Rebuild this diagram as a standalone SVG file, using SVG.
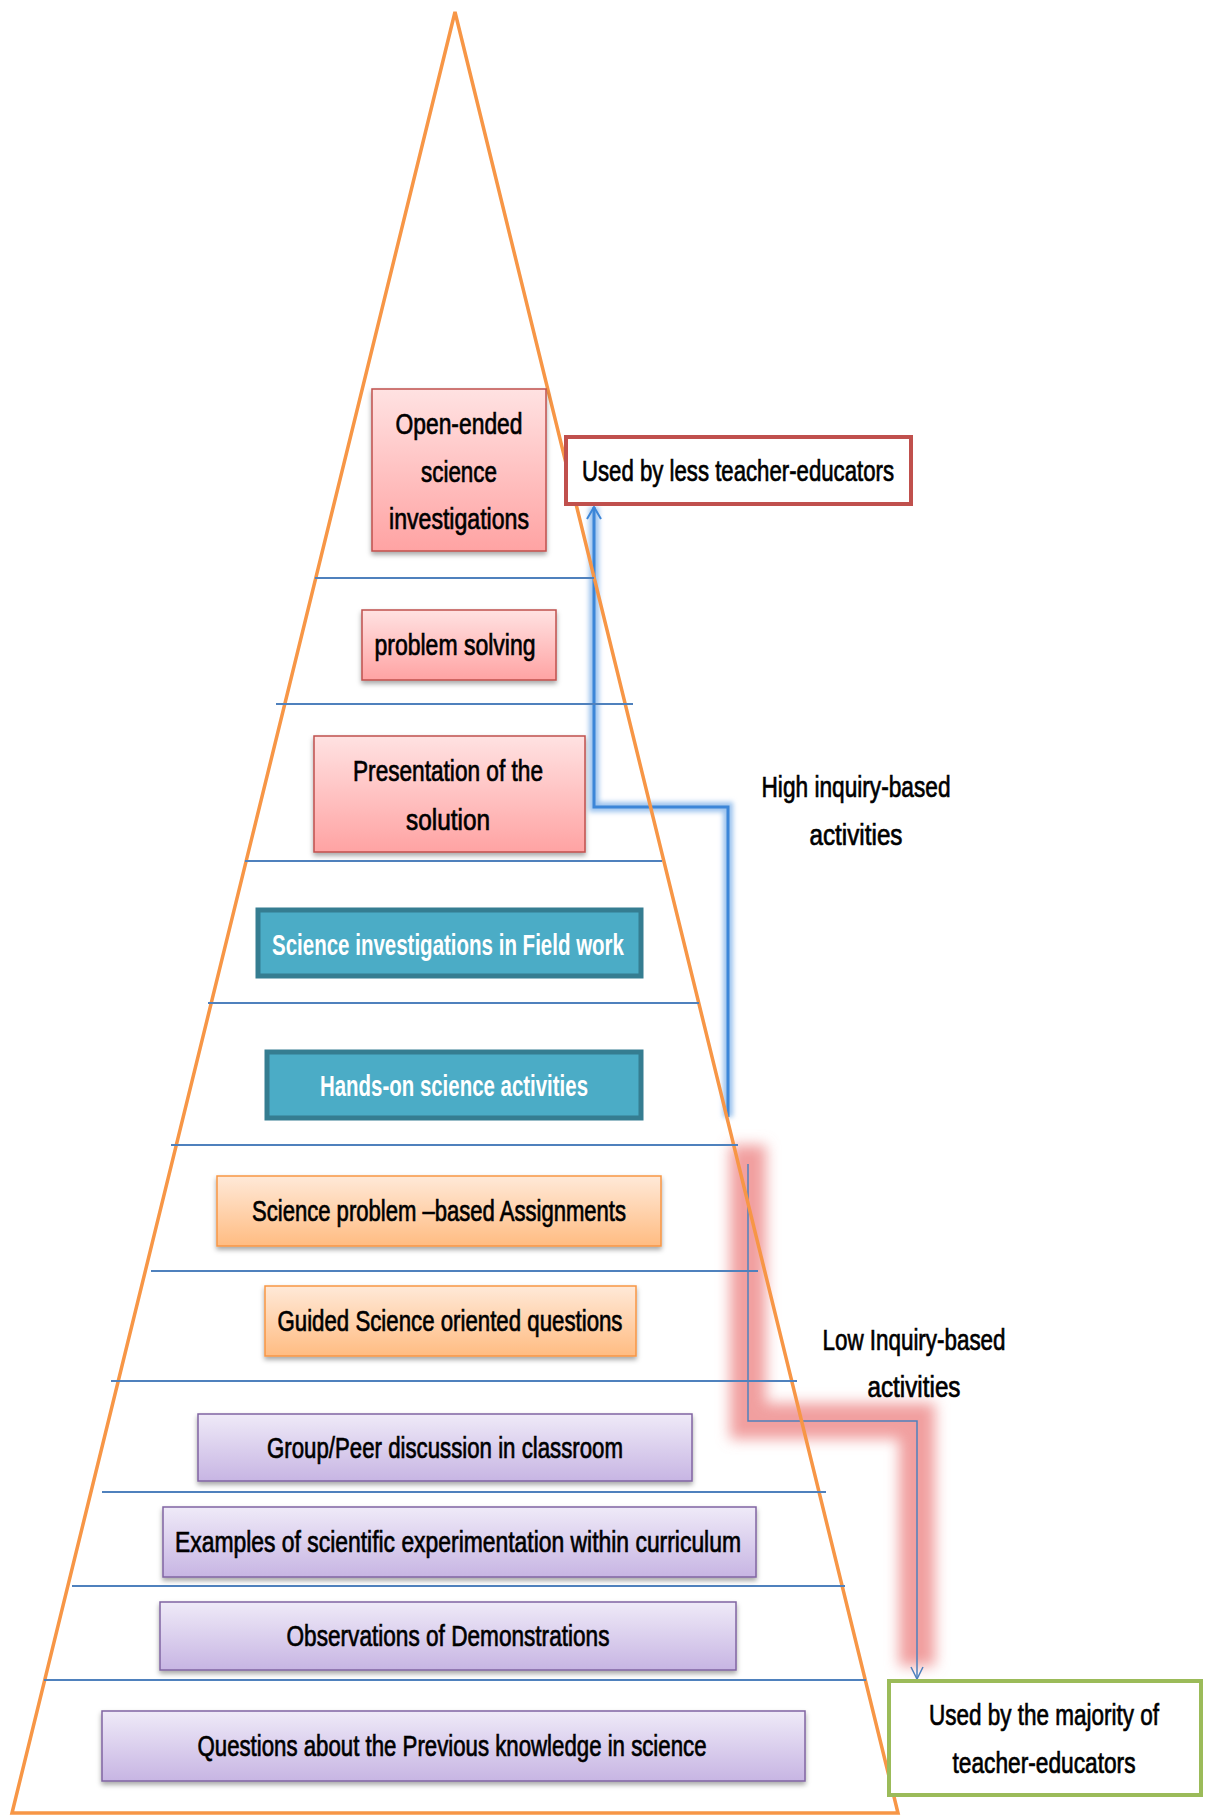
<svg xmlns="http://www.w3.org/2000/svg" width="1211" height="1816" viewBox="0 0 1211 1816">
<defs>
<linearGradient id="gPink" x1="0" y1="0" x2="0" y2="1"><stop offset="0" stop-color="#FFE2E2"/><stop offset="1" stop-color="#FFA3A3"/></linearGradient>
<linearGradient id="gOrange" x1="0" y1="0" x2="0" y2="1"><stop offset="0" stop-color="#FFE9D8"/><stop offset="1" stop-color="#FFBC82"/></linearGradient>
<linearGradient id="gPurple" x1="0" y1="0" x2="0" y2="1"><stop offset="0" stop-color="#EFEAF8"/><stop offset="1" stop-color="#C7B5E3"/></linearGradient>
<filter id="sh" x="-5%" y="-20%" width="110%" height="150%"><feDropShadow dx="0" dy="3" stdDeviation="2.5" flood-color="#000" flood-opacity="0.35"/></filter>
<filter id="blur2" x="-20%" y="-20%" width="140%" height="140%"><feGaussianBlur stdDeviation="2.5"/></filter>
<filter id="blur7" x="-30%" y="-20%" width="160%" height="140%"><feGaussianBlur stdDeviation="7"/></filter>
<marker id="arrUp" markerUnits="userSpaceOnUse" markerWidth="20" markerHeight="20" refX="0" refY="0" orient="auto" overflow="visible"><path d="M-12,-7 L0,0 L-12,7" fill="none" stroke="#3C86D8" stroke-width="2"/></marker>
<marker id="arrDn" markerUnits="userSpaceOnUse" markerWidth="20" markerHeight="20" refX="0" refY="0" orient="auto" overflow="visible"><path d="M-12,-6 L0,0 L-12,6" fill="none" stroke="#4F81BD" stroke-width="1.5"/></marker>
<style>
.lbl{font-family:"Liberation Sans",Arial,sans-serif;font-size:29px;fill:#000;stroke:#000;stroke-width:0.7;text-anchor:middle}
.wht{font-family:"Liberation Sans",Arial,sans-serif;font-size:30px;font-weight:bold;fill:#fff;text-anchor:middle}
.pink{fill:url(#gPink);stroke:#C0504D;stroke-width:1.5;filter:url(#sh)}
.orng{fill:url(#gOrange);stroke:#F79646;stroke-width:1.5;filter:url(#sh)}
.purp{fill:url(#gPurple);stroke:#8064A2;stroke-width:1.5;filter:url(#sh)}
.teal{fill:#4BACC6;stroke:#357D91;stroke-width:5}
.sep{stroke:#4F81BD;stroke-width:2}
</style>
</defs>
<rect width="1211" height="1816" fill="#fff"/>

<g id="connectors">
  <path d="M748 1145 V1421 H917 V1666" fill="none" stroke="#EF8E8E" stroke-opacity="0.85" stroke-width="36" filter="url(#blur7)"/>
  <path d="M728 1117 V807 H594 V507" fill="none" stroke="#9CC3EE" stroke-width="10" filter="url(#blur2)"/>
  <path d="M728 1117 V807 H594 V507" fill="none" stroke="#3C86D8" stroke-width="3" marker-end="url(#arrUp)"/>
  <path d="M748 1164 V1421 H917 V1679" fill="none" stroke="#4F81BD" stroke-width="1.5" marker-end="url(#arrDn)"/>
</g>

<g id="pyramid">
  <polygon points="455,12 12,1813 898,1813" fill="none" stroke="#F79646" stroke-width="3.5" stroke-linejoin="miter"/>
  <line class="sep" x1="315" y1="578" x2="594" y2="578"/>
  <line class="sep" x1="276" y1="704" x2="633" y2="704"/>
  <line class="sep" x1="245" y1="861" x2="662" y2="861"/>
  <line class="sep" x1="208" y1="1003" x2="699" y2="1003"/>
  <line class="sep" x1="171" y1="1145" x2="738" y2="1145"/>
  <line class="sep" x1="151" y1="1271" x2="758" y2="1271"/>
  <line class="sep" x1="111" y1="1381" x2="797" y2="1381"/>
  <line class="sep" x1="102" y1="1492" x2="826" y2="1492"/>
  <line class="sep" x1="72" y1="1586" x2="845" y2="1586"/>
  <line class="sep" x1="44" y1="1680" x2="866" y2="1680"/>
</g>

<g id="n-open-ended">
  <rect class="pink" x="372" y="389" width="174" height="162"/>
  <text class="lbl" x="459" y="434" textLength="127" lengthAdjust="spacingAndGlyphs">Open-ended</text>
  <text class="lbl" x="459" y="482" textLength="76" lengthAdjust="spacingAndGlyphs">science</text>
  <text class="lbl" x="459" y="529" textLength="140" lengthAdjust="spacingAndGlyphs">investigations</text>
</g>
<g id="n-problem-solving">
  <rect class="pink" x="362" y="610" width="194" height="70"/>
  <text class="lbl" x="455" y="655" textLength="161" lengthAdjust="spacingAndGlyphs">problem solving</text>
</g>
<g id="n-presentation">
  <rect class="pink" x="314" y="736" width="271" height="116"/>
  <text class="lbl" x="448" y="781" textLength="190" lengthAdjust="spacingAndGlyphs">Presentation of the</text>
  <text class="lbl" x="448" y="830" textLength="84" lengthAdjust="spacingAndGlyphs">solution</text>
</g>
<g id="n-field-work">
  <rect class="teal" x="258" y="910" width="383" height="66"/>
  <text class="wht" x="448" y="955" textLength="352" lengthAdjust="spacingAndGlyphs">Science investigations in Field work</text>
</g>
<g id="n-hands-on">
  <rect class="teal" x="267" y="1052" width="374" height="66"/>
  <text class="wht" x="454" y="1096" textLength="268" lengthAdjust="spacingAndGlyphs">Hands-on science activities</text>
</g>
<g id="n-assignments">
  <rect class="orng" x="217" y="1176" width="444" height="70"/>
  <text class="lbl" x="439" y="1221" textLength="374" lengthAdjust="spacingAndGlyphs">Science problem –based Assignments</text>
</g>
<g id="n-guided">
  <rect class="orng" x="265" y="1286" width="371" height="70"/>
  <text class="lbl" x="450" y="1331" textLength="345" lengthAdjust="spacingAndGlyphs">Guided Science oriented questions</text>
</g>
<g id="n-group-peer">
  <rect class="purp" x="198" y="1414" width="494" height="67"/>
  <text class="lbl" x="445" y="1458" textLength="356" lengthAdjust="spacingAndGlyphs">Group/Peer discussion in classroom</text>
</g>
<g id="n-examples">
  <rect class="purp" x="163" y="1507" width="593" height="70"/>
  <text class="lbl" x="458" y="1552" textLength="566" lengthAdjust="spacingAndGlyphs">Examples of scientific experimentation within curriculum</text>
</g>
<g id="n-observations">
  <rect class="purp" x="160" y="1602" width="576" height="68"/>
  <text class="lbl" x="448" y="1646" textLength="323" lengthAdjust="spacingAndGlyphs">Observations of Demonstrations</text>
</g>
<g id="n-questions">
  <rect class="purp" x="102" y="1711" width="703" height="70"/>
  <text class="lbl" x="452" y="1756" textLength="509" lengthAdjust="spacingAndGlyphs">Questions about the Previous knowledge in science</text>
</g>

<g id="n-used-less">
  <rect x="566" y="437" width="345" height="67" fill="#fff" stroke="#C0504D" stroke-width="4"/>
  <text class="lbl" x="738" y="481" textLength="312" lengthAdjust="spacingAndGlyphs">Used by less teacher-educators</text>
</g>
<g id="n-used-majority">
  <rect x="889" y="1681" width="312" height="114" fill="#fff" stroke="#9BBB59" stroke-width="4"/>
  <text class="lbl" x="1044" y="1725" textLength="230" lengthAdjust="spacingAndGlyphs">Used by the majority of</text>
  <text class="lbl" x="1044" y="1773" textLength="183" lengthAdjust="spacingAndGlyphs">teacher-educators</text>
</g>

<g id="n-high-label">
  <text class="lbl" x="856" y="797" textLength="189" lengthAdjust="spacingAndGlyphs">High inquiry-based</text>
  <text class="lbl" x="856" y="845" textLength="93" lengthAdjust="spacingAndGlyphs">activities</text>
</g>
<g id="n-low-label">
  <text class="lbl" x="914" y="1350" textLength="183" lengthAdjust="spacingAndGlyphs">Low Inquiry-based</text>
  <text class="lbl" x="914" y="1397" textLength="93" lengthAdjust="spacingAndGlyphs">activities</text>
</g>
</svg>
